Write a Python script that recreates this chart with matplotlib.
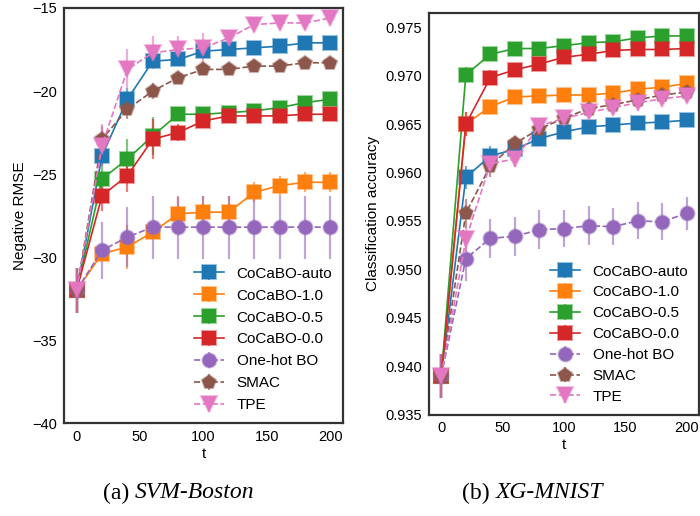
import numpy as np
import matplotlib
matplotlib.use("Agg")
import matplotlib.pyplot as plt
from matplotlib.colors import to_rgba

plt.rcParams['font.family'] = ['Liberation Sans', 'DejaVu Sans']

t = [0, 20, 40, 60, 80, 100, 120, 140, 160, 180, 200]

methods = ["CoCaBO-auto", "CoCaBO-1.0", "CoCaBO-0.5", "CoCaBO-0.0", "One-hot BO", "SMAC", "TPE"]
colors = ["C0", "C1", "C2", "C3", "C4", "C5", "C6"]
markers = ["s", "s", "s", "s", "o", "p", "v"]
styles = ["-", "-", "-", "-", "--", "--", "--"]

# (a) SVM-Boston, negative RMSE
svm_mean = {
    "CoCaBO-auto": [-32, -23.9, -20.5, -18.2, -18.1, -17.6, -17.5, -17.4, -17.3, -17.1, -17.1],
    "CoCaBO-1.0": [-32, -29.8, -29.4, -28.5, -27.4, -27.3, -27.3, -26.1, -25.7, -25.5, -25.5],
    "CoCaBO-0.5": [-32, -25.3, -24.1, -22.7, -21.4, -21.4, -21.3, -21.2, -21.0, -20.7, -20.5],
    "CoCaBO-0.0": [-32, -26.3, -25.1, -22.9, -22.5, -21.8, -21.5, -21.5, -21.5, -21.4, -21.4],
    "One-hot BO": [-32, -29.6, -28.8, -28.2, -28.2, -28.2, -28.2, -28.2, -28.2, -28.2, -28.2],
    "SMAC": [-32, -22.9, -21.1, -20.0, -19.2, -18.7, -18.7, -18.5, -18.5, -18.3, -18.3],
    "TPE": [-32, -23.3, -18.7, -17.7, -17.5, -17.4, -16.8, -16.0, -15.9, -15.9, -15.6],
}
svm_err = {
    "CoCaBO-auto": [1.35, 0.6, 0.7, 0.4, 0.3, 0.3, 0.2, 0.2, 0.2, 0.2, 0.2],
    "CoCaBO-1.0": [1.35, 0.3, 1.3, 0.3, 1.0, 1.0, 1.0, 0.6, 0.6, 0.6, 0.6],
    "CoCaBO-0.5": [1.35, 1.1, 1.2, 1.15, 0.3, 0.3, 0.2, 0.2, 0.2, 0.2, 0.2],
    "CoCaBO-0.0": [1.35, 0.9, 1.0, 1.2, 0.5, 0.3, 0.2, 0.2, 0.2, 0.2, 0.2],
    "One-hot BO": [1.35, 1.7, 1.8, 1.9, 1.9, 1.9, 1.9, 1.9, 1.9, 1.9, 1.9],
    "SMAC": [1.35, 0.8, 0.6, 0.5, 0.3, 0.2, 0.2, 0.2, 0.2, 0.2, 0.2],
    "TPE": [1.35, 1.3, 1.2, 1.0, 0.8, 0.9, 0.5, 0.3, 0.3, 0.3, 0.2],
}

# (b) XG-MNIST, classification accuracy
xg_mean = {
    "CoCaBO-auto": [0.9390, 0.9595, 0.9617, 0.9624, 0.9635, 0.9642, 0.9647, 0.9649, 0.9651, 0.9652, 0.9654],
    "CoCaBO-1.0": [0.9390, 0.9650, 0.9668, 0.9678, 0.9679, 0.9680, 0.9680, 0.9682, 0.9686, 0.9688, 0.9692],
    "CoCaBO-0.5": [0.9390, 0.9701, 0.9722, 0.9728, 0.9728, 0.9731, 0.9734, 0.9735, 0.9739, 0.9741, 0.9741],
    "CoCaBO-0.0": [0.9390, 0.9650, 0.9698, 0.9706, 0.9712, 0.9719, 0.9722, 0.9726, 0.9727, 0.9727, 0.9728],
    "One-hot BO": [0.9390, 0.9511, 0.9532, 0.9534, 0.9541, 0.9542, 0.9545, 0.9544, 0.9550, 0.9549, 0.9558],
    "SMAC": [0.9390, 0.9558, 0.9607, 0.9630, 0.9645, 0.9656, 0.9666, 0.9670, 0.9675, 0.9680, 0.9683],
    "TPE": [0.9390, 0.9531, 0.9609, 0.9614, 0.9648, 0.9656, 0.9662, 0.9667, 0.9672, 0.9676, 0.9679],
}
xg_err = {
    "CoCaBO-auto": [2.3, 1.2, 1.0, 0.6, 0.4, 0.4, 0.4, 0.4, 0.4, 0.4, 0.4],
    "CoCaBO-1.0": [2.3, 1.2, 0.5, 0.3, 0.3, 0.3, 0.3, 0.3, 0.3, 0.3, 0.3],
    "CoCaBO-0.5": [2.3, 0.8, 0.4, 0.3, 0.3, 0.3, 0.3, 0.3, 0.3, 0.3, 0.3],
    "CoCaBO-0.0": [2.3, 1.2, 0.8, 0.6, 0.6, 0.6, 0.5, 0.5, 0.5, 0.5, 0.5],
    "One-hot BO": [2.3, 2.3, 2.0, 2.0, 2.0, 1.9, 2.0, 1.9, 1.9, 1.9, 1.7],
    "SMAC": [2.3, 1.5, 1.2, 0.8, 0.5, 0.3, 0.3, 0.3, 0.3, 0.3, 0.3],
    "TPE": [2.3, 1.3, 1.0, 0.8, 0.5, 0.3, 0.3, 0.3, 0.3, 0.3, 0.3],
}


def draw_panel(ax, means, errs, err_scale=1.0, spacing=0.45):
    for name, c, m, ls in zip(methods, colors, markers, styles):
        ax.errorbar(t, means[name], yerr=np.array(errs[name]) * err_scale,
                    color=c, ecolor=to_rgba(c, 0.6), elinewidth=1.6, capsize=0,
                    marker=m, markersize=10 if m != "v" else 11,
                    markeredgecolor=to_rgba(c, 0.45), markeredgewidth=1.5,
                    linestyle=ls, linewidth=1.2, label=name)
    ax.set_xlim(-10, 210)
    ax.set_xticks([0, 50, 100, 150, 200])
    ax.set_xlabel("t", fontsize=11, labelpad=2)
    ax.tick_params(length=0, labelsize=10.5, pad=5)
    for s in ax.spines.values():
        s.set_color("#333333")
        s.set_linewidth(1.6)
    ax.legend(loc="lower right", frameon=False, fontsize=11,
              handlelength=2.0, labelspacing=spacing, borderaxespad=0.3)


fig = plt.figure(figsize=(7.0, 5.16), dpi=100)

ax0 = fig.add_axes([0.0914, 0.1802, 0.3986, 0.8043])
draw_panel(ax0, svm_mean, svm_err, spacing=0.52)
ax0.set_ylim(-40, -15)
ax0.set_yticks([-40, -35, -30, -25, -20, -15])
ax0.set_ylabel("Negative RMSE", fontsize=11)

ax1 = fig.add_axes([0.6129, 0.1967, 0.3857, 0.7787])
draw_panel(ax1, xg_mean, xg_err, err_scale=1e-3, spacing=0.45)
ax1.set_ylim(0.935, 0.9765)
ax1.set_yticks([0.935, 0.940, 0.945, 0.950, 0.955, 0.960, 0.965, 0.970, 0.975])
ax1.yaxis.set_major_formatter(plt.FormatStrFormatter("%.3f"))
ax1.set_ylabel("Classification accuracy", fontsize=11)

# captions
cap_y = 1 - 493 / 516
fig.text(129 / 700, cap_y, "(a)", ha="right", va="center", fontsize=17, family="Liberation Serif")
fig.text(135 / 700, cap_y, "SVM-Boston", ha="left", va="center", fontsize=17,
         family="Liberation Serif", style="italic")
fig.text(490 / 700, cap_y, "(b)", ha="right", va="center", fontsize=17, family="Liberation Serif")
fig.text(496 / 700, cap_y, "XG-MNIST", ha="left", va="center", fontsize=17,
         family="Liberation Serif", style="italic")

fig.savefig("out.png", dpi=100)
